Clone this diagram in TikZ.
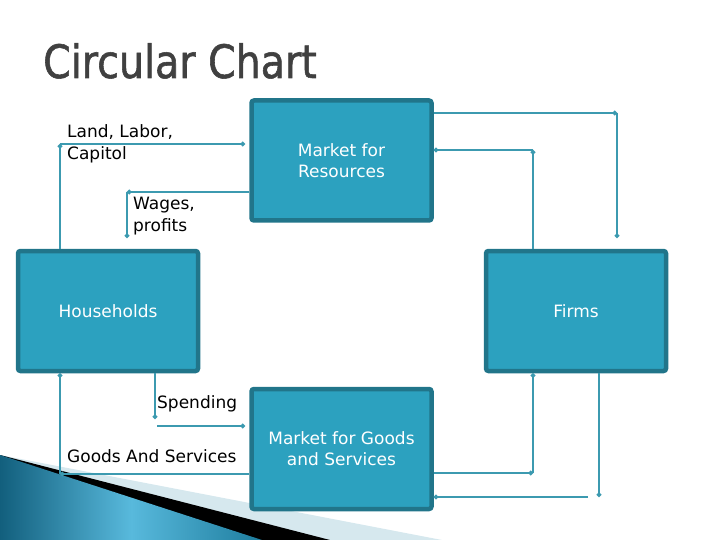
\documentclass[tikz,border=0pt]{standalone}
\usepackage{fontspec}
\setmainfont{DejaVu Sans}
\newfontfamily\titlefont[FakeStretch=0.86,FakeBold=1.2]{DejaVu Sans}
\usetikzlibrary{arrows.meta}
\definecolor{boxfill}{RGB}{44,161,191}
\definecolor{boxborder}{RGB}{33,117,138}
\definecolor{conncol}{RGB}{60,154,176}
\definecolor{titlecol}{RGB}{64,64,64}
\definecolor{swooshdark}{RGB}{18,95,125}
\definecolor{swooshlight}{RGB}{88,185,220}
\definecolor{swooshmid}{RGB}{30,125,158}
\definecolor{paleblue}{RGB}{214,232,238}
\tikzset{
  box/.style={draw=boxborder, line width=4.5pt, fill=boxfill, rounded corners=2.5pt,
    minimum width=180pt, minimum height=120pt, inner sep=0pt, text=white,
    font=\fontsize{17}{21}\selectfont, align=center},
  lbl/.style={inner sep=0pt, text=black, font=\fontsize{17}{22}\selectfont, align=left},
  conn/.style={draw=conncol, line width=1.8pt},
  dot/.style={conn, -{Circle[length=4.5pt,width=4.5pt]}}
}
\begin{document}
\begin{tikzpicture}[x=1pt,y=-1pt]
\useasboundingbox (0,0) rectangle (720,540);
% decorative swoosh
\fill[paleblue] (0,455) -- (442,540) -- (0,540) -- cycle;
\fill[black] (0,455) -- (330,540) -- (0,540) -- cycle;
\shade[left color=swooshdark, right color=swooshmid, middle color=swooshlight]
  (0,455) -- (262,540) -- (0,540) -- cycle;
% title
\node[anchor=base west, inner sep=0pt, text=titlecol, font=\titlefont\fontsize{46}{50}\selectfont] (title) at (43,78) {Circular Chart};
% boxes
\node[box] (mr) at (341.5,160.5) {Market for\\Resources};
\node[box] (hh) at (108,311) {Households};
\node[box] (fm) at (576,311) {Firms};
\node[box] (mg) at (341.5,449) {Market for Goods\\and Services};
% labels
\node[lbl, anchor=north west] (l1) at (67,124) {Land, Labor,\\Capitol};
\node[lbl, anchor=north west] (l2) at (133,197) {Wages,\\profits};
\node[lbl, anchor=north west] (l3) at (157,395) {Spending};
\node[lbl, anchor=north west] (l4) at (67,449) {Goods And Services};
% connector points
\coordinate (L1) at (60,144);
\coordinate (L2) at (245,144);
\coordinate (W1) at (127,192);
\coordinate (W2) at (127,238);
\coordinate (R1) at (617,113);
\coordinate (R2) at (617,238);
\coordinate (F1) at (533,150);
\coordinate (G1) at (60,474);
\coordinate (S1) at (155,419);
\coordinate (S2) at (157,426);
\coordinate (S3) at (245,426);
\coordinate (B1) at (533,473);
\coordinate (B2) at (599,497);
\coordinate (B3) at (588,497);
% connectors
\draw[dot] (hh.north -| L1) -- (L1);
\draw[dot] (L1) -- (L2);
\draw[dot] (mr.west |- W1) -- (W1);
\draw[dot] (W1) -- (W2);
\draw[dot] (mr.east |- R1) -- (R1);
\draw[dot] (R1) -- (R2);
\draw[dot] (fm.north -| F1) -- (F1);
\draw[dot] (F1) -- (mr.east |- F1);
\draw[dot] (mg.west |- G1) -- (G1);
\draw[dot] (G1) -- (hh.south -| G1);
\draw[dot] (hh.south -| S1) -- (S1);
\draw[dot] (S2) -- (S3);
\draw[dot] (mg.east |- B1) -- (B1);
\draw[dot] (B1) -- (fm.south -| B1);
\draw[dot] (fm.south -| B2) -- (B2);
\draw[dot] (B3) -- (mg.east |- B3);
\end{tikzpicture}
\end{document}
